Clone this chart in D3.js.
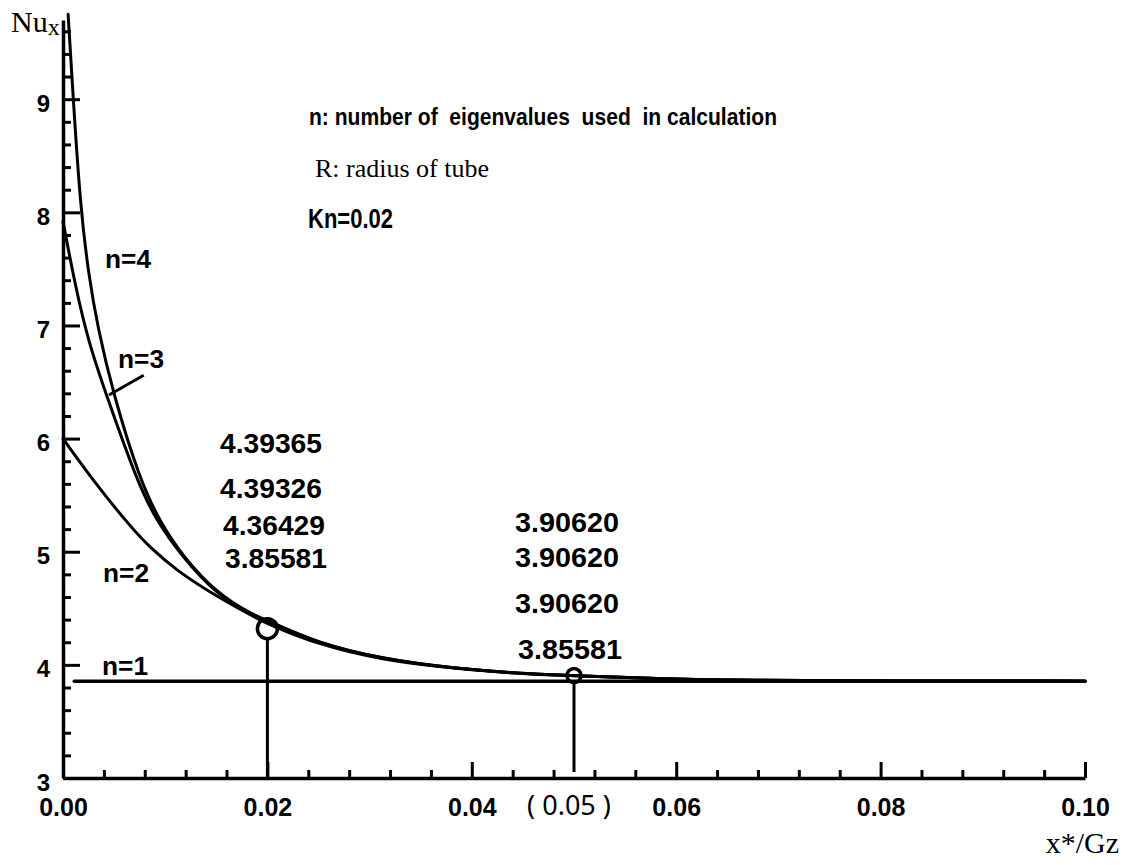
<!DOCTYPE html>
<html>
<head>
<meta charset="utf-8">
<script src="https://cdn.jsdelivr.net/npm/d3@7/dist/d3.min.js"></script>
<style>
  html, body { margin: 0; padding: 0; background: #fff; }
  svg { display: block; }
  text { fill: #000; }
</style>
</head>
<body>
<script>
// ---------------- data ----------------
const xTicksMajor = [0, 0.02, 0.04, 0.06, 0.08, 0.10];
const xTickLabels = ["0.00", "0.02", "0.04", "0.06", "0.08", "0.10"];
const yTicksMajor = [3, 4, 5, 6, 7, 8, 9];

// n = 4 eigenvalues
const xN4  = [0.0005, 0.0010, 0.0017, 0.0025, 0.0034, 0.0049, 0.0075, 0.0095, 0.0118, 0.0151, 0.0184, 0.0200, 0.0249, 0.0314, 0.0380, 0.0460, 0.0500, 0.0590, 0.0670, 0.0800, 0.1000];
const nuN4 = [9.75,   9.00,   8.05,   7.45,   6.98,   6.40,   5.64,   5.26,   4.95,   4.63,   4.45,   4.39365, 4.19,  4.05,   3.97,   3.915,  3.9062, 3.875,  3.862,  3.858,  3.856];
// n = 3 eigenvalues
const xN3  = [0.0000, 0.0012, 0.0025, 0.0043, 0.0071, 0.0090, 0.0118, 0.0151, 0.0184, 0.0200, 0.0249, 0.0314, 0.0380, 0.0460, 0.0500, 0.0590, 0.0670, 0.0800, 0.1000];
const nuN3 = [7.92,   7.35,   6.85,   6.37,   5.66,   5.29,   4.94,   4.62,   4.44,   4.39326, 4.19,  4.05,   3.97,   3.915,  3.9062, 3.875,  3.862,  3.858,  3.856];
// n = 2 eigenvalues
const xN2  = [0.0000, 0.0031, 0.0068, 0.0085, 0.0110, 0.0151, 0.0190, 0.0200, 0.0249, 0.0314, 0.0380, 0.0460, 0.0500, 0.0590, 0.0670, 0.0800, 0.1000];
const nuN2 = [6.00,   5.61,   5.20,   5.04,   4.84,   4.60,   4.41,   4.36429, 4.18,  4.04,   3.97,   3.913,  3.9062, 3.875,  3.862,  3.858,  3.856];
// n = 1 eigenvalue (constant)
const xN1  = [0.0011, 0.1000];
const nuN1 = [3.85581, 3.85581];

// marked points
const markX  = [0.02, 0.05];
const markNu = [4.32, 3.9062];

// values printed next to the marked points (n = 4, 3, 2, 1)
const valuesAt002 = [4.39365, 4.39326, 4.36429, 3.85581];
const valuesAt005 = [3.90620, 3.90620, 3.90620, 3.85581];

// ---------------- drawing ----------------
const W = 1124, H = 865;
const svg = d3.select("body").append("svg").attr("width", W).attr("height", H);

const x = d3.scaleLinear().domain([0, 0.1]).range([63, 1085]);
const y = d3.scaleLinear().domain([3, 9.7]).range([778, 20]);

const sansBold = "'Liberation Sans', Arial, Helvetica, sans-serif";
const serif = "'Liberation Serif', 'Times New Roman', serif";
const LW = 3.5;
const CW = 3;

// minor ticks
const xMinor = d3.range(0, 0.1001, 0.004).filter(v => Math.abs(v / 0.02 - Math.round(v / 0.02)) > 1e-6);
const yMinor = d3.range(3.2, 9.65, 0.2).filter(v => Math.abs(v - Math.round(v)) > 1e-6);

function styleAxis(g, domainWidth) {
  g.selectAll(".tick line").attr("stroke", "#000").attr("stroke-width", 3);
  g.selectAll(".domain").attr("stroke", "#000").attr("stroke-width", domainWidth);
}

// x axis
const gxMinor = svg.append("g").attr("transform", `translate(0,${y(3)})`)
  .call(d3.axisBottom(x).tickValues(xMinor).tickSize(-8).tickSizeOuter(0).tickFormat(""));
gxMinor.select(".domain").remove();
styleAxis(gxMinor, 0);

const gx = svg.append("g").attr("transform", `translate(0,${y(3)})`)
  .call(d3.axisBottom(x).tickValues(xTicksMajor).tickSize(-16).tickSizeOuter(0)
        .tickFormat((d, i) => xTickLabels[i]));
styleAxis(gx, LW);
gx.selectAll(".tick text")
  .attr("y", 38).attr("dy", null)
  .attr("font-family", sansBold).attr("font-weight", "bold").attr("font-size", 25);

// y axis
const gyMinor = svg.append("g").attr("transform", `translate(${x(0)},0)`)
  .call(d3.axisLeft(y).tickValues(yMinor).tickSize(-8).tickSizeOuter(0).tickFormat(""));
gyMinor.select(".domain").remove();
styleAxis(gyMinor, 0);

const gy = svg.append("g").attr("transform", `translate(${x(0)},0)`)
  .call(d3.axisLeft(y).tickValues(yTicksMajor).tickSize(-17).tickSizeOuter(0).tickPadding(13)
        .tickFormat(d3.format("d")));
styleAxis(gy, LW);
gy.selectAll(".tick text")
  .attr("dy", "0.5em")
  .attr("font-family", sansBold).attr("font-weight", "bold").attr("font-size", 24);

// axis titles
const nu = svg.append("text").attr("x", 11).attr("y", 32)
  .attr("font-family", serif).attr("font-size", 30);
nu.append("tspan").text("Nu");
nu.append("tspan").attr("font-size", 24).attr("dy", 3).text("x");

svg.append("text").attr("x", 1119).attr("y", 853).attr("text-anchor", "end")
  .attr("font-family", serif).attr("font-size", 30).text("x*/Gz");

svg.append("text").attr("x", x(0.05) - 5).attr("y", 815).attr("text-anchor", "middle")
  .attr("font-family", "'Noto Sans', sans-serif").attr("font-size", 27)
  .style("white-space", "pre")
  .text("( 0.05 )");

// curves
const line = d3.line().x(d => x(d[0])).y(d => y(d[1])).curve(d3.curveBasis);
const series = [
  d3.zip(xN4, nuN4),
  d3.zip(xN3, nuN3),
  d3.zip(xN2, nuN2)
];
svg.append("g").selectAll("path").data(series).join("path")
  .attr("d", line).attr("fill", "none").attr("stroke", "#000").attr("stroke-width", CW)
  .attr("stroke-linejoin", "round").attr("stroke-linecap", "round");

svg.append("path").datum(d3.zip(xN1, nuN1))
  .attr("d", d3.line().x(d => x(d[0])).y(d => y(d[1])))
  .attr("fill", "none").attr("stroke", "#000").attr("stroke-width", LW)
  .attr("stroke-linecap", "round");

// marked points with drop lines
const radii = [10, 7];
const marks = d3.zip(markX, markNu);
svg.append("g").selectAll("line").data(marks).join("line")
  .attr("x1", d => x(d[0])).attr("x2", d => x(d[0]))
  .attr("y1", (d, i) => y(d[1]) + radii[i]).attr("y2", (d, i) => i === 0 ? y(3) : y(3) - 6)
  .attr("stroke", "#000").attr("stroke-width", 3);
svg.append("g").selectAll("circle").data(marks).join("circle")
  .attr("cx", d => x(d[0])).attr("cy", d => y(d[1])).attr("r", (d, i) => radii[i])
  .attr("fill", "none").attr("stroke", "#000").attr("stroke-width", LW);

// printed values
const fmt = d3.format(".5f");
const lab002 = [[220, 453], [220, 498], [223, 535], [225, 568]];
const lab005 = [[515, 532], [515, 567], [515, 613], [518, 659]];
svg.append("g").selectAll("text").data(valuesAt002).join("text")
  .attr("x", (d, i) => lab002[i][0]).attr("y", (d, i) => lab002[i][1])
  .attr("font-family", sansBold).attr("font-weight", "bold").attr("font-size", 27)
  .attr("textLength", 102).attr("lengthAdjust", "spacingAndGlyphs")
  .text(d => fmt(d));
svg.append("g").selectAll("text").data(valuesAt005).join("text")
  .attr("x", (d, i) => lab005[i][0]).attr("y", (d, i) => lab005[i][1])
  .attr("font-family", sansBold).attr("font-weight", "bold").attr("font-size", 27)
  .attr("textLength", 104).attr("lengthAdjust", "spacingAndGlyphs")
  .text(d => fmt(d));

// curve labels
const curveLabels = [["n=4", 105, 268], ["n=3", 118, 368], ["n=2", 103, 582], ["n=1", 102, 675]];
svg.append("g").selectAll("text").data(curveLabels).join("text")
  .attr("x", d => d[1]).attr("y", d => d[2])
  .attr("font-family", sansBold).attr("font-weight", "bold").attr("font-size", 25)
  .attr("textLength", 46).attr("lengthAdjust", "spacingAndGlyphs")
  .text(d => d[0]);

// leader for n=3
const leader = [[0.0045, 6.385], [0.0079, 6.56]];
svg.append("line")
  .attr("x1", x(leader[0][0])).attr("y1", y(leader[0][1]))
  .attr("x2", x(leader[1][0])).attr("y2", y(leader[1][1]))
  .attr("stroke", "#000").attr("stroke-width", CW);

// header notes
svg.append("text").attr("x", 309).attr("y", 125)
  .attr("font-family", sansBold).attr("font-weight", "bold").attr("font-size", 24)
  .attr("textLength", 468).attr("lengthAdjust", "spacingAndGlyphs")
  .style("white-space", "pre")
  .text("n: number of  eigenvalues  used  in calculation");
svg.append("text").attr("x", 315).attr("y", 177)
  .attr("font-family", serif).attr("font-size", 26)
  .text("R: radius of tube");
svg.append("text").attr("x", 308).attr("y", 228)
  .attr("font-family", sansBold).attr("font-weight", "bold").attr("font-size", 27)
  .attr("textLength", 85).attr("lengthAdjust", "spacingAndGlyphs")
  .text("Kn=0.02");
</script>
</body>
</html>
